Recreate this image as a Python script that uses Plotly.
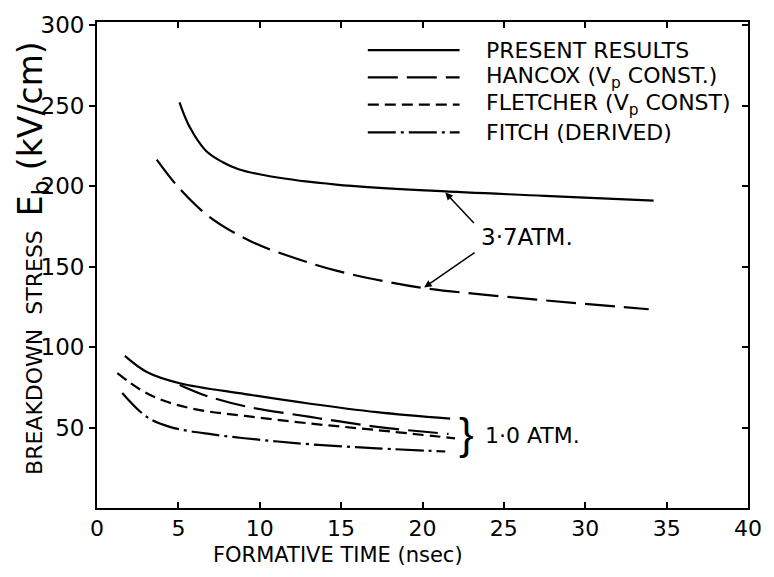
import plotly.graph_objects as go

# ---- data ----
present_37_t = [5.07, 5.68, 6.69, 7.7, 8.7, 10.7, 14.7, 20.8, 27.5, 34.2]
present_37_v = [252, 237, 222, 215, 210.5, 206, 201, 197, 194, 191]

hancox_37_t = [3.67, 5.07, 6.9, 9.5, 12.1, 14.7, 17.6, 20.2, 27.0, 33.9]
hancox_37_v = [216.5, 198.5, 181, 165.5, 155.5, 147.5, 141, 136.5, 129.5, 123.5]

present_10_t = [1.71, 3.06, 5.08, 9.1, 13.1, 17.2, 21.7]
present_10_v = [94.5, 84.5, 77.5, 70.8, 64.8, 59.6, 55.5]

hancox_10_t = [5.08, 6.7, 9.1, 13.1, 17.2, 21.6]
hancox_10_v = [76.5, 69.8, 63.2, 56.6, 50.4, 46.0]

fletcher_10_t = [1.25, 2.66, 4.07, 6.08, 9.1, 13.1, 17.2, 22.0]
fletcher_10_v = [83.8, 73.6, 66.8, 61.3, 57.2, 52.5, 48.4, 43.3]

fitch_10_t = [1.55, 3.06, 4.47, 7.09, 10.1, 13.1, 17.2, 21.4]
fitch_10_v = [71.5, 56.6, 50.4, 45.7, 42.3, 39.6, 37.1, 35.1]

x_ticks = [0, 5, 10, 15, 20, 25, 30, 35, 40]
y_ticks = [50, 100, 150, 200, 250, 300]

legend_labels = ["PRESENT RESULTS",
                 "HANCOX (V<sub>p</sub> CONST.)",
                 "FLETCHER (V<sub>p</sub> CONST)",
                 "FITCH (DERIVED)"]

# ---- styles ----
FONT = "DejaVu Sans"
SOLID = "solid"
LONG = "30px,9px"
SHORT = "11px,6px"
DASHDOT = "28px,5px,3px,5px"
LW = 2.2

fig = go.Figure()

def add(t, v, dash):
    fig.add_trace(go.Scatter(x=t, y=v, mode="lines", line_shape="spline",
                             line=dict(color="black", width=LW, dash=dash),
                             showlegend=False, hoverinfo="skip"))

add(present_37_t, present_37_v, SOLID)
add(hancox_37_t, hancox_37_v, LONG)
add(present_10_t, present_10_v, SOLID)
add(hancox_10_t, hancox_10_v, LONG)
add(fletcher_10_t, fletcher_10_v, SHORT)
add(fitch_10_t, fitch_10_v, DASHDOT)

# empty trace for right-side axis ticks
fig.add_trace(go.Scatter(x=[], y=[], yaxis="y2", showlegend=False))

# ---- legend drawn manually ----
legend_dashes = [SOLID, LONG, SHORT, DASHDOT]
row_y = [0.942, 0.886, 0.830, 0.773]
for lab, d, ry in zip(legend_labels, legend_dashes, row_y):
    fig.add_shape(type="line", xref="paper", yref="paper",
                  x0=0.416, x1=0.557, y0=ry, y1=ry,
                  line=dict(color="black", width=LW, dash=d))
    fig.add_annotation(xref="paper", yref="paper", x=0.595, y=ry,
                       text=lab, showarrow=False, xanchor="left",
                       yanchor="middle",
                       font=dict(family=FONT, size=22, color="black"))

# ---- labels and arrows ----
fig.add_annotation(x=26.4, y=168.5, text="3·7ATM.", showarrow=False,
                   font=dict(family=FONT, size=23, color="black"))
fig.add_annotation(x=21.4, y=196, ax=30, ay=32, text="", showarrow=True,
                   arrowhead=2, arrowsize=1, arrowwidth=1.5, arrowcolor="black")
fig.add_annotation(x=20.1, y=137, ax=52, ay=-36, text="", showarrow=True,
                   arrowhead=2, arrowsize=1, arrowwidth=1.5, arrowcolor="black")

fig.add_annotation(x=22.7, y=46, text="}", showarrow=False, xanchor="center",
                   yanchor="middle",
                   font=dict(family="Liberation Sans", size=44, color="black"))
fig.add_annotation(x=23.7, y=45, text="1·0 ATM.", showarrow=False,
                   xanchor="left", yanchor="middle",
                   font=dict(family=FONT, size=22, color="black"))

fig.add_annotation(xref="paper", yref="paper", x=0.37, y=-0.097,
                   text="FORMATIVE TIME (nsec)", showarrow=False,
                   yanchor="middle",
                   font=dict(family=FONT, size=21, color="black"))
fig.add_annotation(xref="paper", yref="paper", x=-0.098, y=0.515,
                   xanchor="center", yanchor="middle",
                   text="BREAKDOWN  STRESS  <span style='font-size:33px'>E<sub>b</sub> (kV/cm)</span>",
                   showarrow=False, textangle=-90,
                   font=dict(family=FONT, size=22, color="black"))

fig.update_layout(
    width=774, height=577,
    margin=dict(l=97, r=16, t=12, b=69),
    paper_bgcolor="white", plot_bgcolor="white",
    xaxis=dict(range=[0, 40], tickvals=x_ticks, ticktext=[str(v) for v in x_ticks],
               ticks="inside", ticklen=6, tickwidth=1.5, tickcolor="black",
               showline=True, linecolor="black", linewidth=1.8, mirror="ticks",
               showgrid=False, zeroline=False,
               tickfont=dict(family=FONT, size=22, color="black")),
    yaxis=dict(range=[0, 302], tickvals=y_ticks, ticktext=[str(v) for v in y_ticks],
               ticks="outside", ticklen=6, tickwidth=1.5, tickcolor="black",
               showline=True, linecolor="black", linewidth=1.8, mirror=True,
               showgrid=False, zeroline=False,
               tickfont=dict(family=FONT, size=23, color="black")),
    yaxis2=dict(range=[0, 302], tickvals=y_ticks, overlaying="y", side="right",
                ticks="inside", ticklen=6, tickwidth=1.5, tickcolor="black",
                showticklabels=False, showline=False, showgrid=False,
                zeroline=False),
)

fig.write_html("out.html")
